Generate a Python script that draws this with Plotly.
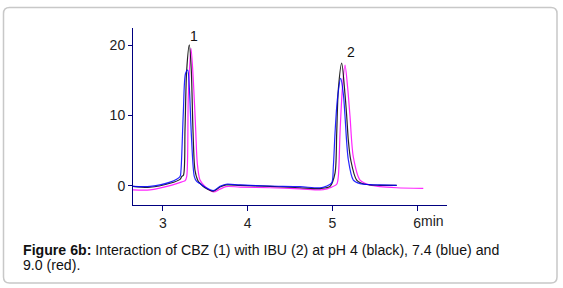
import plotly.graph_objects as go

# ---- data (time in min, signal) ----
black_x = [2.646, 2.847, 3.083, 3.201, 3.221, 3.242, 3.260, 3.280, 3.311, 3.334, 3.354, 3.378, 3.413, 3.437,
           3.496, 3.594, 3.673, 3.744, 3.909, 4.263, 4.617, 4.854, 4.924, 4.972, 5.031, 5.051, 5.070, 5.110,
           5.149, 5.169, 5.188, 5.216, 5.287, 5.385, 5.562, 5.759]
black_y = [-0.1, -0.23, 0.34, 0.9, 1.3, 1.5, 8.0, 16.5, 20.1, 16.5, 8.0, 2.2, 0.7, 0.34,
           -0.3, -0.78, -0.2, 0.1, 0.05, -0.1, -0.3, -0.43, -0.3, -0.1, 1.8, 7.5, 13.7, 17.5,
           13.0, 9.9, 6.5, 3.7, 0.8, 0.2, 0.05, 0.05]

blue_x = [2.646, 2.847, 3.083, 3.201, 3.2125, 3.240, 3.266, 3.292, 3.311, 3.336, 3.370, 3.398, 3.437, 3.496,
          3.594, 3.673, 3.744, 3.909, 4.263, 4.617, 4.854, 4.924, 4.992, 5.011, 5.031, 5.058, 5.098,
          5.130, 5.149, 5.188, 5.247, 5.326, 5.444, 5.562, 5.759]
blue_y = [-0.1, -0.1, 0.5, 1.3, 2.2, 10.4, 16.0, 16.5, 14.0, 7.0, 1.3, 0.6, 0.3, -0.2,
          -0.7, -0.1, 0.2, 0.1, -0.05, -0.15, -0.3, -0.1, 0.4, 2.7, 7.5, 12.2, 15.3,
          13.0, 9.9, 3.7, 0.8, 0.3, 0.15, 0.1, 0.05]

magenta_x = [2.646, 2.847, 3.083, 3.236, 3.260, 3.280, 3.299, 3.331, 3.358, 3.386, 3.405, 3.437, 3.496,
             3.594, 3.673, 3.744, 3.909, 4.263, 4.617, 4.854, 4.924, 4.972, 5.051, 5.070, 5.090, 5.117,
             5.149, 5.180, 5.208, 5.247, 5.326, 5.444, 5.562, 5.759, 6.073]
magenta_y = [-0.6, -0.6, 0.0, 0.6, 0.7, 1.3, 12.7, 19.6, 15.1, 8.0, 3.2, 0.8, -0.1,
             -0.9, -0.5, -0.14, -0.2, -0.3, -0.45, -0.6, -0.5, -0.3, 0.2, 1.3, 7.5, 13.7,
             17.2, 14.0, 9.9, 4.1, 0.8, 0.1, -0.14, -0.3, -0.4]

x_ticks = [3, 4, 5, 6]
x_tick_text = ["3", "4", "5", "6"]
y_ticks = [0, 10, 20]
peak_labels = ["1", "2"]
peak_label_x = [3.366, 5.22]
peak_label_y = [21.3, 19.1]
caption_lines = ["<b>Figure 6b:</b> Interaction of CBZ (1) with IBU (2) at pH 4 (black), 7.4 (blue) and",
                 "9.0 (red)."]

FONT = "Liberation Sans, Arial, sans-serif"

fig = go.Figure()
for xs, ys, col in [(magenta_x, magenta_y, "#ff00ff"), (black_x, black_y, "#000000"), (blue_x, blue_y, "#0000ff")]:
    fig.add_trace(go.Scatter(x=xs, y=ys, mode="lines",
                             line=dict(color=col, width=1.2, shape="spline", smoothing=0.8),
                             opacity=0.85, showlegend=False, hoverinfo="skip"))

axis_col = "#000080"
fig.update_xaxes(range=[2.646, 6.353], tickvals=x_ticks, ticktext=x_tick_text,
                 showgrid=False, zeroline=False, showline=True, linecolor=axis_col, linewidth=1,
                 ticks="outside", ticklen=5, tickcolor=axis_col,
                 tickfont=dict(family=FONT, size=14, color="#222222"))
fig.update_yaxes(range=[-2.76, 22.5], tickvals=y_ticks,
                 showgrid=False, zeroline=False, showline=True, linecolor=axis_col, linewidth=1,
                 ticks="outside", ticklen=4, tickcolor=axis_col,
                 tickfont=dict(family=FONT, size=14, color="#222222"))

for t, xv, yv in zip(peak_labels, peak_label_x, peak_label_y):
    fig.add_annotation(x=xv, y=yv, text=t, showarrow=False,
                       font=dict(family=FONT, size=14, color="#111111"))

fig.add_annotation(x=6.02, y=0, yref="paper", yshift=-16, text="min", showarrow=False,
                   xanchor="left", yanchor="middle",
                   font=dict(family=FONT, size=14, color="#222222"))


def px_x(p):
    return (p - 133) / 314


def px_y(p):
    return (205 - p) / 177


# caption (two lines, tight spacing)
for line, cy in zip(caption_lines, [250.5, 265.0]):
    fig.add_annotation(xref="paper", yref="paper", x=px_x(21), y=px_y(cy),
                       text=line, showarrow=False, xanchor="left", yanchor="middle", align="left",
                       font=dict(family=FONT, size=14.15, color="#111111"))

# rounded border box
L, R, T, B, r = 3.5, 557.0, 7.5, 283.0, 6
path = (f"M {px_x(L + r)} {px_y(T)} L {px_x(R - r)} {px_y(T)} Q {px_x(R)} {px_y(T)} {px_x(R)} {px_y(T + r)} "
        f"L {px_x(R)} {px_y(B - r)} Q {px_x(R)} {px_y(B)} {px_x(R - r)} {px_y(B)} "
        f"L {px_x(L + r)} {px_y(B)} Q {px_x(L)} {px_y(B)} {px_x(L)} {px_y(B - r)} "
        f"L {px_x(L)} {px_y(T + r)} Q {px_x(L)} {px_y(T)} {px_x(L + r)} {px_y(T)} Z")
fig.add_shape(type="path", xref="paper", yref="paper", path=path,
              line=dict(color="#c8c8c8", width=1.5), layer="below")

fig.update_layout(width=563, height=288, margin=dict(l=133, r=116, t=28, b=83),
                  paper_bgcolor="white", plot_bgcolor="white")

fig.write_html("out.html", config={"displayModeBar": False},
               post_script="document.body.style.margin='0';")
